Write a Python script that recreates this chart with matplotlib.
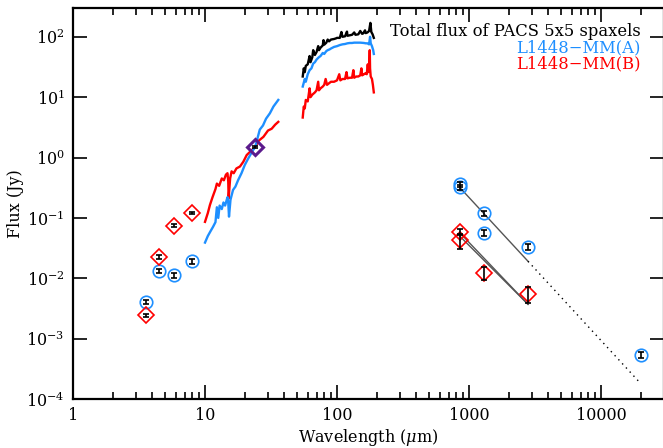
import matplotlib
matplotlib.use("Agg")
import matplotlib.pyplot as plt
from matplotlib.ticker import LogLocator, NullFormatter, FixedLocator, FixedFormatter

plt.rcParams['font.family'] = ['DejaVu Serif']
plt.rcParams['mathtext.fontset'] = 'dejavuserif'

BLUE = '#1E8FFF'
RED = '#FF0000'
PURPLE = '#5B1A8C'

# ---- Spitzer IRS spectra (um, Jy) ----
irs_a_wl = [10.0, 10.5, 11.0, 11.5, 12.0, 12.3, 12.6, 12.9, 13.4, 13.8, 14.2, 14.8, 15.0, 15.2,
            15.6, 16.3, 17.0, 17.8, 18.9, 20.0, 21.0, 22.0, 23.0, 24.0, 25.0, 26.0, 27.5, 29.0,
            31.0, 33.0, 35.9]
irs_a_fl = [0.039, 0.050, 0.060, 0.071, 0.085, 0.15, 0.10, 0.16, 0.14, 0.18, 0.16, 0.22, 0.18, 0.105,
            0.20, 0.29, 0.33, 0.42, 0.55, 0.75, 0.92, 1.1, 1.3, 1.5, 2.1, 2.9, 3.4, 4.4,
            5.4, 7.0, 9.0]
irs_b_wl = [10.0, 10.5, 10.9, 11.4, 12.0, 12.3, 12.8, 13.4, 13.9, 14.4, 14.8, 15.0, 15.1, 15.5,
            15.9, 16.5, 17.3, 18.4, 19.5, 20.7, 22.0, 24.0, 25.5, 27.7, 30.0, 32.0, 34.0, 35.9]
irs_b_fl = [0.086, 0.12, 0.164, 0.22, 0.30, 0.37, 0.34, 0.45, 0.42, 0.52, 0.55, 0.40, 0.21, 0.45,
            0.59, 0.55, 0.66, 0.71, 0.85, 1.1, 1.25, 1.5, 1.9, 2.2, 2.8, 3.0, 3.5, 3.9]

# ---- Herschel PACS spectra (um, Jy) ----
pacs_tot_wl = [55, 56, 57, 58, 60, 62, 63, 65, 66, 68, 70, 72, 73, 75, 78, 79, 80, 83, 85, 87,
               90, 95, 98, 100, 105, 108, 110, 115, 119, 120, 125, 130, 135, 138, 145, 150, 155,
               158, 163, 165, 170, 175, 179, 182, 186, 190]
pacs_tot_fl = [22, 30, 26, 33, 35, 48, 38, 46, 60, 50, 56, 70, 60, 66, 72, 88, 74, 80, 90, 84,
               90, 92, 94, 96, 96, 120, 100, 102, 122, 104, 106, 108, 118, 108, 110, 125, 112,
               114, 128, 115, 118, 125, 170, 120, 110, 96]
pacs_a_wl = [55, 57, 58, 60, 62, 64, 66, 68, 70, 73, 75, 78, 80, 83, 85, 88, 90, 95, 100, 105,
             110, 115, 120, 125, 130, 135, 140, 150, 160, 165, 170, 175, 178, 180, 184, 188, 190]
pacs_a_fl = [15, 20, 18, 24, 28, 30, 36, 38, 42, 46, 48, 54, 52, 58, 60, 62, 64, 68, 70, 73,
             75, 76, 78, 79, 79, 80, 80, 80, 79, 78, 78, 75, 100, 78, 70, 60, 52]
pacs_b_wl = [55, 56, 57, 58, 60, 62, 63, 65, 68, 70, 72, 73, 75, 78, 80, 82, 84, 87, 90, 95,
             100, 104, 106, 110, 115, 118, 120, 125, 130, 133, 135, 140, 145, 150, 153, 155,
             160, 165, 168, 171, 173, 176, 177, 178, 180, 184, 187, 190]
pacs_b_fl = [4.6, 7.0, 6.5, 9.0, 8.5, 14, 10, 11, 12, 13, 18, 13, 14, 15, 16, 20, 16, 17, 18, 18,
             19, 24, 19, 20, 20, 26, 20.5, 21, 21, 28, 21, 22, 22, 23, 30, 23,
             24, 25, 24, 35, 26, 40, 60, 30, 22, 20, 16, 12]

# ---- Photometry: L1448-MM(A) ----
phot_a_wl = [3.6, 4.5, 5.8, 8.0, 850, 850, 1300, 1300, 2800, 20000]
phot_a_fl = [4.1e-3, 1.3e-2, 1.12e-2, 1.9e-2, 0.36, 0.32, 0.12, 0.056, 0.033, 5.4e-4]
phot_a_er = [3e-4, 1e-3, 1e-3, 1.5e-3, 0.03, 0.03, 0.012, 0.006, 0.004, 6e-5]

# ---- Photometry: L1448-MM(B) ----
phot_b_wl = [3.6, 4.5, 5.8, 8.0, 850, 850, 1300, 2800]
phot_b_fl = [2.45e-3, 2.25e-2, 7.4e-2, 0.12, 0.059, 0.043, 0.0123, 5.5e-3]
phot_b_er = [1.5e-4, 1.5e-3, 4e-3, 6e-3, 0.006, 0.012, 0.0028, 0.0016]

# ---- MIPS 24 um (unresolved pair) ----
mips_wl = [24.0]
mips_fl = [1.5]
mips_er = [0.08]

# ---- Power-law fits to the (sub)mm fluxes ----
fit_a_wl = [850, 2800]
fit_a_fl = [0.32, 0.0191]
ext_a_wl = [2800, 20000]
ext_a_fl = [0.0191, 1.8e-4]
fit_b1_wl = [850, 2800]
fit_b1_fl = [0.057, 0.0037]
fit_b2_wl = [850, 2800]
fit_b2_fl = [0.050, 0.0037]

fig = plt.figure(figsize=(6.63, 4.48), dpi=100)
ax = fig.add_axes([73 / 663, 49 / 448, 591 / 663, 391 / 448])
ax.set_xscale('log')
ax.set_yscale('log')
ax.set_xlim(1, 3e4)
ax.set_ylim(1e-4, 300)

# spectra
ax.plot(irs_b_wl, irs_b_fl, color=RED, lw=1.7)
ax.plot(irs_a_wl, irs_a_fl, color=BLUE, lw=1.7)
ax.plot(pacs_tot_wl, pacs_tot_fl, color='black', lw=1.7)
ax.plot(pacs_a_wl, pacs_a_fl, color=BLUE, lw=1.7)
ax.plot(pacs_b_wl, pacs_b_fl, color=RED, lw=1.7)

# fits
ax.plot(fit_a_wl, fit_a_fl, color='#555555', lw=1.0)
ax.plot(ext_a_wl, ext_a_fl, color='black', lw=1.0, ls=(0, (1, 3)))
ax.plot(fit_b1_wl, fit_b1_fl, color='#555555', lw=1.0)
ax.plot(fit_b2_wl, fit_b2_fl, color='#555555', lw=1.0)

# photometry
ax.plot(phot_a_wl, phot_a_fl, ls='none', marker='o', ms=9, mfc='none', mec=BLUE, mew=1.2)
ax.plot(phot_b_wl, phot_b_fl, ls='none', marker='D', ms=8, mfc='none', mec=RED, mew=1.2)
ax.plot(mips_wl, mips_fl, ls='none', marker='D', ms=8, mfc='none', mec=PURPLE, mew=2.2)
for wl, fl, er in ((phot_a_wl, phot_a_fl, phot_a_er),
                   (phot_b_wl, phot_b_fl, phot_b_er),
                   (mips_wl, mips_fl, mips_er)):
    ax.errorbar(wl, fl, yerr=er, fmt='none', ecolor='black', elinewidth=1.2,
                capsize=2.5, capthick=1.2)

# axes styling
for s in ax.spines.values():
    s.set_linewidth(1.6)
ax.xaxis.set_major_locator(FixedLocator([1, 10, 100, 1000, 10000]))
ax.xaxis.set_major_formatter(FixedFormatter(['1', '10', '100', '1000', '10000']))
ax.xaxis.set_minor_locator(LogLocator(base=10, subs=range(2, 10), numticks=20))
ax.xaxis.set_minor_formatter(NullFormatter())
ax.yaxis.set_major_locator(FixedLocator([1e-4, 1e-3, 1e-2, 1e-1, 1, 10, 100]))
ax.yaxis.set_major_formatter(FixedFormatter([r'$10^{-4}$', r'$10^{-3}$', r'$10^{-2}$',
                                             r'$10^{-1}$', r'$10^{0}$', r'$10^{1}$',
                                             r'$10^{2}$']))
ax.yaxis.set_minor_locator(FixedLocator([]))
ax.tick_params(which='both', direction='in', top=True, right=True, width=1.2, labelsize=11.5)
ax.tick_params(which='major', length=10, pad=6)
ax.tick_params(which='minor', length=5)

ax.set_xlabel(r'Wavelength ($\mu$m)', fontsize=11.5, labelpad=2)
ax.set_ylabel('Flux (Jy)', fontsize=11.5)
ax.yaxis.set_label_coords(-0.083, 0.5)

legend_lines = [('Total flux of PACS 5x5 spaxels', 'black', 0.940),
                ('L1448\u2212MM(A)', BLUE, 0.899),
                ('L1448\u2212MM(B)', RED, 0.858)]
for label, color, ypos in legend_lines:
    ax.text(0.961, ypos, label, transform=ax.transAxes, ha='right', va='center',
            fontsize=11.8, color=color)

fig.savefig('out.png', dpi=100)
